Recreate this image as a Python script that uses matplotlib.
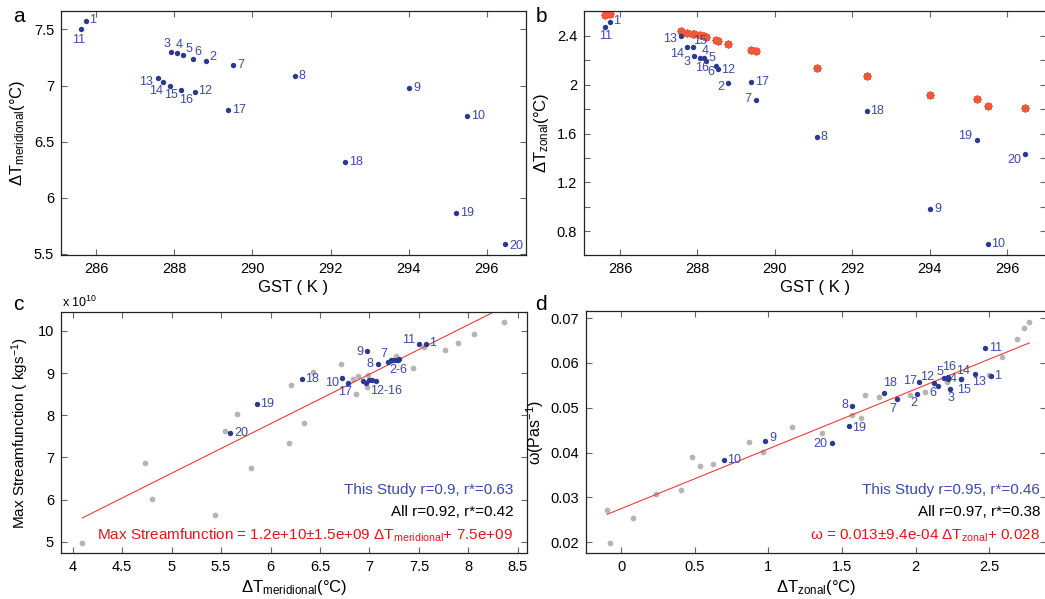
import numpy as np
import matplotlib.pyplot as plt
from matplotlib.ticker import FixedLocator, FuncFormatter

plt.rcParams['font.family'] = ['Liberation Sans', 'DejaVu Sans']
plt.rcParams['mathtext.fontset'] = 'custom'
plt.rcParams['mathtext.rm'] = 'Liberation Sans'
plt.rcParams['mathtext.it'] = 'Liberation Sans:italic'
plt.rcParams['mathtext.bf'] = 'Liberation Sans:bold'

# ---------------- data (model 1..20) ----------------
model_ids = [str(i) for i in range(1, 21)]
gst = [285.74, 288.80, 287.91, 288.07, 288.22, 288.48, 289.50, 291.08, 294.01, 295.49,
       285.62, 288.52, 287.57, 287.72, 287.88, 288.17, 289.38, 292.37, 295.22, 296.46]
dt_merid = [7.571, 7.218, 7.295, 7.286, 7.269, 7.236, 7.185, 7.082, 6.975, 6.726,
            7.500, 6.939, 7.067, 7.028, 6.996, 6.963, 6.782, 6.316, 5.862, 5.592]
dt_zonal = [2.514, 2.010, 2.231, 2.220, 2.190, 2.152, 1.871, 1.569, 0.980, 0.697,
            2.468, 2.127, 2.400, 2.310, 2.310, 2.220, 2.021, 1.787, 1.547, 1.430]
dt_zonal_alt = [2.580, 2.335, 2.410, 2.405, 2.392, 2.367, 2.275, 2.138, 1.918, 1.825,
                2.569, 2.354, 2.441, 2.425, 2.411, 2.400, 2.286, 2.067, 1.885, 1.809]
max_stream = [9.684e10, 9.30e10, 9.33e10, 9.32e10, 9.30e10, 9.31e10, 9.27e10, 9.225e10, 9.517e10, 8.884e10,
              9.684e10, 8.81e10, 8.81e10, 8.83e10, 8.83e10, 8.77e10, 8.766e10, 8.853e10, 8.275e10, 7.579e10]
omega = [0.05707, 0.05313, 0.05418, 0.05630, 0.05660, 0.05484, 0.05195, 0.05031, 0.04259, 0.03842,
         0.06339, 0.05544, 0.05744, 0.05648, 0.05640, 0.05678, 0.05574, 0.05321, 0.04593, 0.04214]

# other models (grey)
all_dt_merid = [4.097, 4.735, 4.802, 5.434, 5.538, 5.659, 5.803, 6.183, 6.203, 6.334, 6.434, 6.717,
                6.837, 6.861, 6.884, 6.972, 6.989, 7.267, 7.445, 7.553, 7.764, 7.895, 8.056, 8.362]
all_stream = [4.968e10, 6.875e10, 6.005e10, 5.633e10, 7.619e10, 8.030e10, 6.748e10, 7.350e10, 8.718e10,
              7.824e10, 9.035e10, 9.217e10, 8.853e10, 8.505e10, 8.924e10, 8.679e10, 8.964e10, 9.407e10,
              9.122e10, 9.628e10, 9.541e10, 9.707e10, 9.921e10, 10.206e10]
all_dt_zonal = [-0.095, -0.075, 0.082, 0.236, 0.410, 0.485, 0.533, 0.626, 0.866, 0.961, 1.159, 1.367,
                1.565, 1.626, 1.653, 1.751, 1.959, 2.066, 2.215, 2.500, 2.583, 2.685, 2.739, 2.771]
all_omega = [0.02728, 0.01993, 0.02550, 0.03085, 0.03166, 0.03909, 0.03701, 0.03753, 0.04229, 0.04006,
             0.04571, 0.04429, 0.04838, 0.04779, 0.05276, 0.05239, 0.05284, 0.05343, 0.05581, 0.05737,
             0.06131, 0.06539, 0.06785, 0.06918]

# regression fits
fit_c = (1.175e10, 7.48e9)
fit_d = (0.01333, 0.0275)

stats_c = ['This Study r=0.9, r*=0.63', 'All r=0.92, r*=0.42',
           'Max Streamfunction = 1.2e+10\u00b11.5e+09 \u0394T$_{\\mathrm{meridional}}$+ 7.5e+09']
stats_d = ['This Study r=0.95, r*=0.46', 'All r=0.97, r*=0.38',
           '\u03c9 = 0.013\u00b19.4e-04 \u0394T$_{\\mathrm{zonal}}$+ 0.028']

# ---------------- styles ----------------
BLUE = '#2b3990'
LBLUE = '#3c4aa8'
GREY = '#b5b5b5'
STAR = '#f0583c'
LRED = '#ee3b3b'
W, H = 1045, 599


def box(l, t, r, b):
    return [l / W, 1 - b / H, (r - l) / W, (b - t) / H]


def style(ax):
    ax.tick_params(which='both', direction='in', top=True, right=True, length=4, width=0.8,
                   color='#666666', labelsize=10.5, pad=5)
    for s in ax.spines.values():
        s.set_linewidth(0.9)
        s.set_color('#222222')
    fmt = FuncFormatter(lambda v, p: '%g' % round(v, 6))
    ax.xaxis.set_major_formatter(fmt)
    ax.yaxis.set_major_formatter(fmt)


def label_points(ax, xs, ys, names, offsets):
    for x, y, n in zip(xs, ys, names):
        if n is None:
            continue
        dx, dy, ha = offsets.get(n, (4, 0, 'left'))
        ax.annotate(n, (x, y), xytext=(dx, dy), textcoords='offset pixels',
                    ha=ha, va='center', fontsize=9, color=LBLUE)


fig = plt.figure(figsize=(10.45, 5.99), dpi=100)

# ---------------- a ----------------
ax = fig.add_axes(box(61, 10.7, 526, 255))
ax.scatter(gst, dt_merid, s=15, color=BLUE, zorder=3, linewidths=0)
off_a = {'1': (3, 1, 'left'), '11': (-3, -11, 'center'), '3': (-4, 8, 'center'),
         '4': (2, 8, 'center'), '5': (6, 6, 'center'), '6': (5, 7, 'center'),
         '2': (4, 4, 'left'), '13': (-5, -4, 'right'), '14': (-7, -9, 'center'),
         '15': (1, -9, 'center'), '16': (5, -10, 'center'), '12': (3, 1, 'left'),
         '20': (4, -2, 'left')}
label_points(ax, gst, dt_merid, model_ids, off_a)
ax.set_xlim(285.1, 297.0)
ax.set_ylim(5.49, 7.667)
ax.set_xticks([286, 288, 290, 292, 294, 296])
ax.set_yticks([5.5, 6, 6.5, 7, 7.5])
style(ax)
ax.set_xlabel('GST ( K )', fontsize=12, labelpad=3)
ax.set_ylabel('\u0394T$_{\\mathrm{meridional}}$(\u00b0C)', fontsize=12, labelpad=5)
fig.text(19 / W, 1 - 17 / H, 'a', fontsize=15, ha='center', va='center')

# ---------------- b ----------------
ax = fig.add_axes(box(584, 10.7, 1046, 255))
ax.scatter(gst, dt_zonal_alt, s=22, marker=(8, 2, 0), color=STAR, linewidths=1.4, zorder=2)
ax.scatter(gst, dt_zonal_alt, s=12, color=STAR, linewidths=0, zorder=2)
ax.scatter(gst, dt_zonal, s=15, color=BLUE, zorder=3, linewidths=0)
off_b = {'1': (3, 1, 'left'), '11': (0, -9, 'center'), '13': (-4, -3, 'right'),
         '15': (7, 6, 'center'), '14': (-3, -7, 'right'), '3': (-7, -6, 'center'),
         '16': (-2, -10, 'center'), '4': (5, 7, 'center'), '5': (6, 3, 'center'),
         '6': (-5, -6, 'center'), '12': (3, -1, 'left'), '2': (-4, -4, 'right'),
         '7': (-4, 1, 'right'), '19': (-5, 4, 'right'), '20': (-4, -6, 'right'),
         '18': (3, 0, 'left')}
label_points(ax, gst, dt_zonal, model_ids, off_b)
ax.set_xlim(285.07, 297.0)
ax.set_ylim(0.607, 2.604)
ax.set_xticks([286, 288, 290, 292, 294, 296])
ax.set_yticks([0.8, 1.2, 1.6, 2.0, 2.4])
ax.yaxis.set_minor_locator(FixedLocator([1.0, 1.4, 1.8, 2.2]))
style(ax)
ax.set_xlabel('GST ( K )', fontsize=12, labelpad=3)
ax.set_ylabel('\u0394T$_{\\mathrm{zonal}}$(\u00b0C)', fontsize=12, labelpad=4)
fig.text(541 / W, 1 - 16 / H, 'b', fontsize=15, ha='center', va='center')

# ---------------- c ----------------
ax = fig.add_axes(box(61, 312, 526.7, 553.3))
ax.scatter(all_dt_merid, all_stream, s=17, color=GREY, linewidths=0, zorder=2)
xl = np.array([min(all_dt_merid), max(all_dt_merid)])
ax.plot(xl, fit_c[0] * xl + fit_c[1], color=LRED, lw=0.8, zorder=2)
ax.scatter(dt_merid, max_stream, s=15, color=BLUE, zorder=3, linewidths=0)
names_c = ['1', '2-6', None, None, None, None, '7', '8', '9', '10',
           '11', None, '12-16', None, None, None, '17', '18', '19', '20']
off_c = {'1': (3, 1, 'left'), '11': (-4, 4, 'right'), '9': (-4, -1, 'right'),
         '7': (-4, 8, 'center'), '8': (-4, 0, 'right'), '2-6': (7, -10, 'center'),
         '10': (-3, -5, 'right'), '17': (-3, -9, 'center'), '12-16': (10, -10, 'center'),
         '18': (3, 0, 'left'), '19': (3, 0, 'left'), '20': (4, 0, 'left')}
label_points(ax, dt_merid, max_stream, names_c, off_c)
ax.set_xlim(3.882, 8.59)
ax.set_ylim(4.723e10, 10.451e10)
ax.set_xticks(np.arange(4, 8.51, 0.5))
ax.set_yticks([5e10, 6e10, 7e10, 8e10, 9e10, 10e10])
style(ax)
ax.yaxis.set_major_formatter(FuncFormatter(lambda v, p: '%g' % round(v / 1e10, 6)))
ax.set_xlabel('\u0394T$_{\\mathrm{meridional}}$(\u00b0C)', fontsize=12, labelpad=3)
ax.set_ylabel('Max Streamfunction ( kgs$^{-1}$)', fontsize=11, labelpad=5)
fig.text(62 / W, 1 - 302 / H, 'x 10$^{10}$', fontsize=9, ha='left', va='center')
for txt, yy, col in zip(stats_c, [0.262, 0.172, 0.073], [LBLUE, 'black', '#e8141c']):
    ax.text(0.971, yy, txt, transform=ax.transAxes, ha='right', va='center', fontsize=11, color=col)
fig.text(18 / W, 1 - 305 / H, 'c', fontsize=15, ha='center', va='center')

# ---------------- d ----------------
ax = fig.add_axes(box(586, 310.7, 1046, 553.3))
ax.scatter(all_dt_zonal, all_omega, s=17, color=GREY, linewidths=0, zorder=2)
xl = np.array([min(all_dt_zonal), max(all_dt_zonal)])
ax.plot(xl, fit_d[0] * xl + fit_d[1], color=LRED, lw=0.8, zorder=2)
ax.scatter(dt_zonal, omega, s=15, color=BLUE, zorder=3, linewidths=0)
off_d = {'11': (4, 0, 'left'), '1': (3, 0, 'left'), '13': (4, -8, 'center'),
         '14': (2, 8, 'center'), '15': (3, -11, 'center'), '3': (1, -9, 'center'),
         '4': (5, 0, 'center'), '16': (1, 10, 'center'), '5': (-4, 6, 'center'),
         '12': (-7, 6, 'center'), '6': (-5, -7, 'center'), '2': (-3, -9, 'center'),
         '17': (-9, 1, 'center'), '7': (-4, -10, 'center'), '18': (6, 10, 'center'),
         '8': (-4, 1, 'right'), '19': (3, -2, 'left'), '20': (-4, -1, 'right'),
         '9': (4, 3, 'left'), '10': (3, 0, 'left')}
label_points(ax, dt_zonal, omega, model_ids, off_d)
ax.set_xlim(-0.238, 2.885)
ax.set_ylim(0.01755, 0.07163)
ax.set_xticks([0, 0.5, 1, 1.5, 2, 2.5])
ax.set_yticks([0.02, 0.03, 0.04, 0.05, 0.06, 0.07])
style(ax)
ax.set_xlabel('\u0394T$_{\\mathrm{zonal}}$(\u00b0C)', fontsize=12, labelpad=3)
ax.set_ylabel('\u03c9(Pas$^{-1}$)', fontsize=11.5, labelpad=3)
for txt, yy, col in zip(stats_d, [0.261, 0.171, 0.0725], [LBLUE, 'black', '#e8141c']):
    ax.text(0.987, yy, txt, transform=ax.transAxes, ha='right', va='center', fontsize=11, color=col)
fig.text(541 / W, 1 - 305 / H, 'd', fontsize=15, ha='center', va='center')

fig.savefig('out.png', dpi=100)
